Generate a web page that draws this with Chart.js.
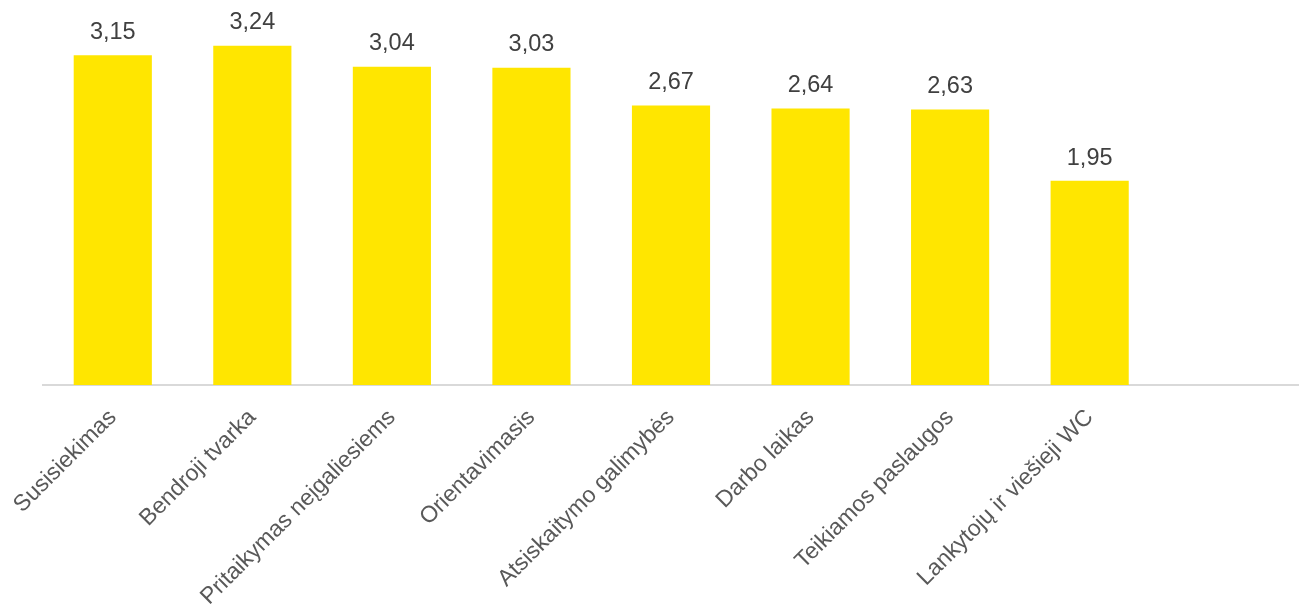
<!DOCTYPE html>
<html>
<head>
<meta charset="utf-8">
<script src="https://cdn.jsdelivr.net/npm/chart.js@4"></script>
<style>
  html, body { margin: 0; padding: 0; background: #fff; }
  #wrap { width: 1299px; height: 611px; position: relative; }
</style>
</head>
<body>
<div id="wrap"><canvas id="bars"></canvas></div>
<script>
const categories = [
  "Susisiekimas",
  "Bendroji tvarka",
  "Pritaikymas neįgaliesiems",
  "Orientavimasis",
  "Atsiskaitymo galimybės",
  "Darbo laikas",
  "Teikiamos paslaugos",
  "Lankytojų ir viešieji WC",
  ""
];
const scores = [3.15, 3.24, 3.04, 3.03, 2.67, 2.64, 2.63, 1.95, null];

// value labels above the bars, comma decimals
const valueLabels = {
  id: "valueLabels",
  afterDatasetsDraw(chart) {
    const ctx = chart.ctx;
    const meta = chart.getDatasetMeta(0);
    ctx.save();
    ctx.font = "23.5px 'Liberation Sans', Arial, sans-serif";
    ctx.fillStyle = "#404040";
    ctx.textAlign = "center";
    ctx.textBaseline = "bottom";
    meta.data.forEach((bar, i) => {
      const v = scores[i];
      if (v == null) return;
      ctx.fillText(v.toFixed(2).replace(".", ","), bar.x, bar.y - 11);
    });
    ctx.restore();
  }
};

new Chart(document.getElementById("bars").getContext("2d"), {
  type: "bar",
  data: {
    labels: categories,
    datasets: [
      {
        data: scores,
        backgroundColor: "#FFE600",
        borderWidth: 0,
        barPercentage: 0.56,
        categoryPercentage: 1,
      },
    ],
  },
  options: {
    responsive: true,
    maintainAspectRatio: false,
    animation: false,
    layout: { padding: { left: 43, right: 0, top: 8, bottom: 0 } },
    plugins: {
      legend: { display: false },
      tooltip: { enabled: false },
    },
    scales: {
      x: {
        grid: { display: false },
        border: { display: true, color: "#d9d9d9", width: 2 },
        ticks: {
          autoSkip: false,
          maxRotation: 45,
          minRotation: 45,
          padding: 11,
          color: "#595959",
          font: { family: "'Liberation Sans', Arial, sans-serif", size: 23 },
        },
        afterFit(scale) {
          scale.height = 226;
        },
      },
      y: {
        display: false,
        min: 0,
        max: 3.6,
      },
    },
  },
  plugins: [valueLabels],
});
</script>
</body>
</html>
